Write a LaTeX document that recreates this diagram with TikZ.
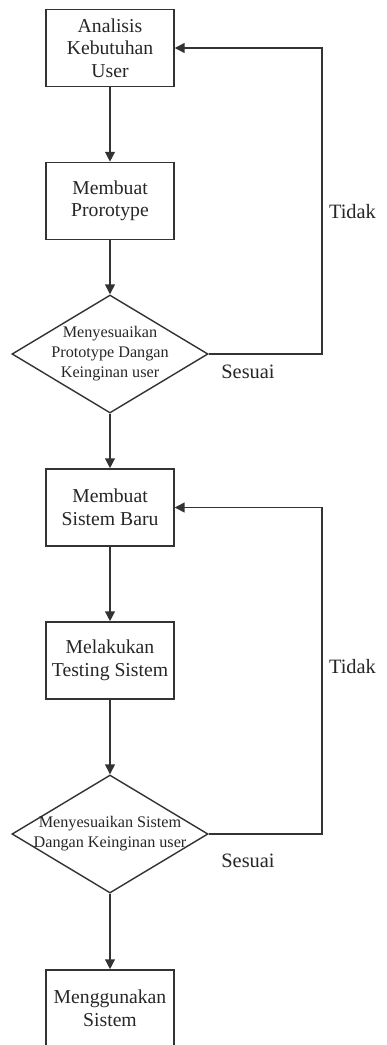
\documentclass[tikz,border=0pt]{standalone}
\usepackage{fontspec}
\setmainfont{Liberation Serif}
\usetikzlibrary{calc, shapes.geometric, arrows.meta}

\begin{document}
\begin{tikzpicture}[x=0.025cm, y=-0.025cm,
    garis/.style={line width=1pt, draw=black!80},
    proses/.style={garis, rectangle, minimum width=3.2cm, minimum height=1.93cm,
      inner sep=0pt, align=center, text=black!85, font=\fontsize{14}{16}\selectfont},
    keputusan/.style={garis, diamond, minimum width=4.9cm, minimum height=2.95cm,
      inner sep=0pt},
    isi/.style={align=center, text=black!85, font=\fontsize{11.5}{14.2}\selectfont},
    ket/.style={text=black!85, font=\fontsize{14.5}{17}\selectfont, inner sep=0pt},
    panah/.style={garis, -{Triangle[width=7pt,length=7pt]}}]
      \useasboundingbox (0,0) rectangle (387,1045);%
      \def\xa{110} \def\xk{322}%

      % tahap prototype
      \node[proses] (b1) at (\xa,48) {Analisis\\Kebutuhan\\User};%
      \node[proses] (b2) at (\xa,201) {Membuat\\Prorotype};%
      \node[keputusan, label={[isi]center:Menyesuaikan\\Prototype Dangan\\Keinginan user}] (d1) at (\xa,354) {};%

      % tahap sistem
      \node[proses] (b3) at (\xa,507.5) {Membuat\\Sistem Baru};%
      \node[proses] (b4) at (\xa,660.5) {Melakukan\\Testing Sistem};%
      \node[keputusan, label={[isi]center:Menyesuaikan Sistem\\Dangan Keinginan user}] (d2) at (\xa,834) {};%
      \node[proses] (b5) at (\xa,1008.5) {Menggunakan\\Sistem};%

      \foreach \a/\b in {b1/b2, b2/d1, d1/b3, b3/b4, b4/d2, d2/b5} {%
        \draw[panah] (\a) -- (\b); }%

      % umpan balik
      \draw[panah] (d1.east) -- (\xk,354) |- (b1.east);%
      \draw[panah] (d2.east) -- (\xk,834) |- (b3.east);%

      \node[ket] (tidak1) at (352.5,212) {Tidak};%
      \node[ket] (sesuai1) at (248,372) {Sesuai};%
      \node[ket] (tidak2) at (352.5,667) {Tidak};%
      \node[ket] (sesuai2) at (248,861) {Sesuai};%
\end{tikzpicture}
\end{document}
